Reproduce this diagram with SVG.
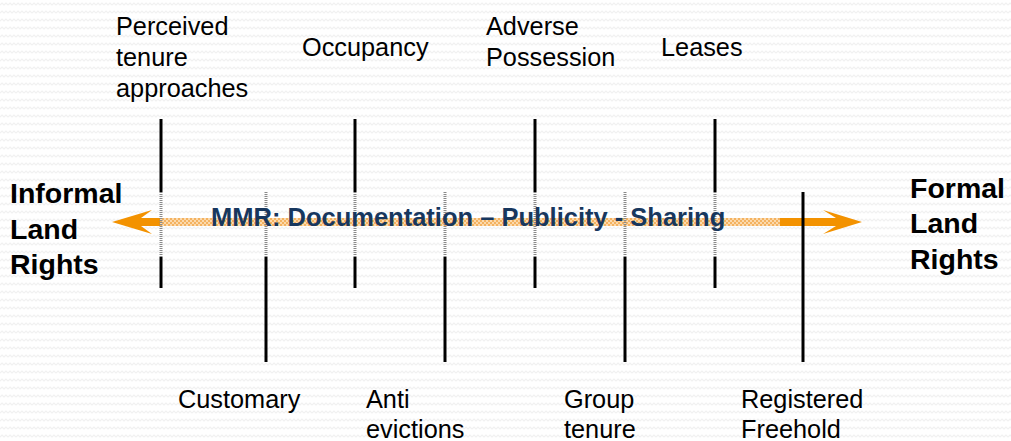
<svg xmlns="http://www.w3.org/2000/svg" width="1011" height="441" viewBox="0 0 1011 441">
<defs>
<pattern id="bg" width="8" height="8" patternUnits="userSpaceOnUse">
<rect width="8" height="8" fill="#ffffff"/>
<path d="M0,5 L2,3 L4,5 L6,3 L8,5" fill="none" stroke="#f1f1f1" stroke-width="1.1"/>
</pattern>
<pattern id="hatch" width="4" height="4" patternUnits="userSpaceOnUse">
<rect width="4" height="4" fill="#fbd9ac"/>
<rect width="2" height="2" fill="#f4b260"/>
<rect x="2" y="2" width="2" height="2" fill="#f4b260"/>
</pattern>
<style>
.lbl{font-family:"Liberation Sans",Arial,sans-serif;font-size:25.3px;fill:#000}
.big{font-family:"Liberation Sans",Arial,sans-serif;font-size:28.5px;font-weight:bold;fill:#000}
.mmr{font-family:"Liberation Sans",Arial,sans-serif;font-size:25.5px;font-weight:bold;fill:#17375e}
.solid{stroke:#000;stroke-width:3;fill:none}
.dot{stroke:#8a8a8a;stroke-width:3;stroke-dasharray:1 1;fill:none}
.arrow{fill:#f39200}
</style>
</defs>
<rect width="1011" height="441" fill="url(#bg)"/>

<g id="connectors">
<rect x="160" y="218" width="620" height="8" fill="url(#hatch)"/>
<path class="arrow" d="M160,218 L141,218 L152,210 L112,222 L152,234 L141,226 L160,226 Z"/>
<path class="arrow" d="M780,218 L836,218 L823,210 L862,222 L823,234 L836,226 L780,226 Z"/>
</g>

<g id="perceived">
<line class="solid" x1="161" y1="119" x2="161" y2="192"/>
<line class="dot" x1="161" y1="192" x2="161" y2="257"/>
<line class="solid" x1="161" y1="257" x2="161" y2="288"/>
<text class="lbl" x="116" y="35">Perceived</text>
<text class="lbl" x="116" y="66">tenure</text>
<text class="lbl" x="116" y="97">approaches</text>
</g>
<g id="occupancy">
<line class="solid" x1="355" y1="119" x2="355" y2="192"/>
<line class="dot" x1="355" y1="192" x2="355" y2="257"/>
<line class="solid" x1="355" y1="257" x2="355" y2="288"/>
<text class="lbl" x="302" y="56">Occupancy</text>
</g>
<g id="adverse">
<line class="solid" x1="535" y1="119" x2="535" y2="192"/>
<line class="dot" x1="535" y1="192" x2="535" y2="257"/>
<line class="solid" x1="535" y1="257" x2="535" y2="288"/>
<text class="lbl" x="486" y="35">Adverse</text>
<text class="lbl" x="486" y="66">Possession</text>
</g>
<g id="leases">
<line class="solid" x1="715" y1="119" x2="715" y2="192"/>
<line class="dot" x1="715" y1="192" x2="715" y2="257"/>
<line class="solid" x1="715" y1="257" x2="715" y2="288"/>
<text class="lbl" x="661" y="56">Leases</text>
</g>
<g id="customary">
<line class="dot" x1="266" y1="192" x2="266" y2="257"/>
<line class="solid" x1="266" y1="257" x2="266" y2="362"/>
<text class="lbl" x="178" y="408">Customary</text>
</g>
<g id="anti">
<line class="dot" x1="445" y1="192" x2="445" y2="257"/>
<line class="solid" x1="445" y1="257" x2="445" y2="362"/>
<text class="lbl" x="366" y="408">Anti</text>
<text class="lbl" x="366" y="438">evictions</text>
</g>
<g id="group">
<line class="dot" x1="625" y1="192" x2="625" y2="257"/>
<line class="solid" x1="625" y1="257" x2="625" y2="362"/>
<text class="lbl" x="564" y="408">Group</text>
<text class="lbl" x="564" y="438">tenure</text>
</g>
<g id="registered">
<line class="solid" x1="803" y1="192" x2="803" y2="362"/>
<text class="lbl" x="741" y="408">Registered</text>
<text class="lbl" x="741" y="438">Freehold</text>
</g>

<g id="informal">
<text class="big" x="10" y="203">Informal</text>
<text class="big" x="10" y="239">Land</text>
<text class="big" x="10" y="274">Rights</text>
</g>
<g id="formal">
<text class="big" x="910" y="198">Formal</text>
<text class="big" x="910" y="233">Land</text>
<text class="big" x="910" y="269">Rights</text>
</g>
<g id="mmr">
<text class="mmr" x="211" y="226">MMR: Documentation – Publicity - Sharing</text>
</g>
</svg>
